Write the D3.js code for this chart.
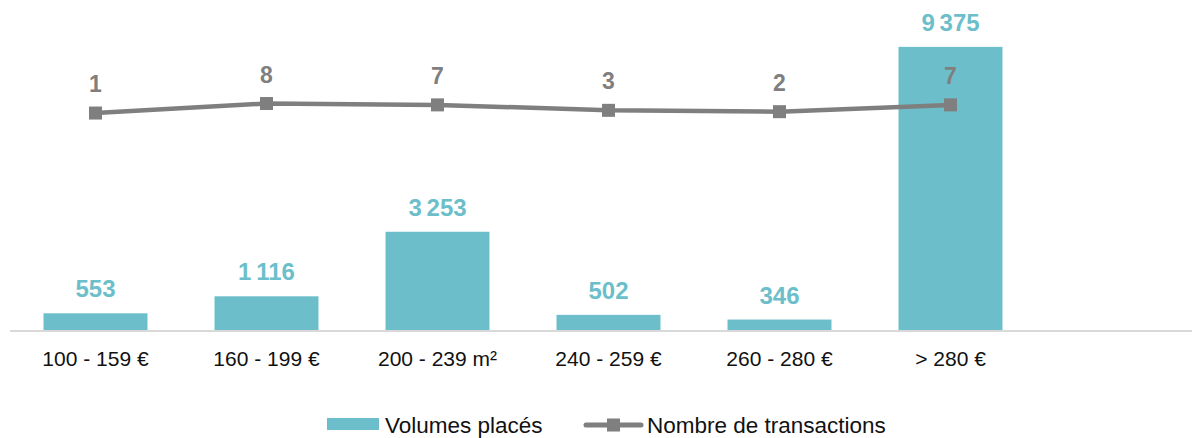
<!DOCTYPE html>
<html>
<head>
<meta charset="utf-8">
<script src="https://cdn.jsdelivr.net/npm/d3@7"></script>
<style>
  body { margin: 0; background: #fff; }
  svg { display: block; font-family: "Liberation Sans", Arial, sans-serif; }
</style>
</head>
<body>
<div id="chart"></div>
<script>
// Data
const categories = ["100 - 159 €", "160 - 199 €", "200 - 239 m²", "240 - 259 €", "260 - 280 €", "> 280 €"];
const volumes = [553, 1116, 3253, 502, 346, 9375];
const transactions = [1, 8, 7, 3, 2, 7];
const volumeLabels = ["553", "1\u202F116", "3\u202F253", "502", "346", "9\u202F375"];

const width = 1192, height = 438;
const teal = "#6cbfca", grey = "#7f7f7f";

const svg = d3.select("#chart").append("svg")
    .attr("width", width)
    .attr("height", height);

// one empty slot at the end, like the reference
const x = d3.scaleBand()
    .domain(categories.concat([""]))
    .range([10, 1207])
    .paddingInner(0.392)
    .paddingOuter(0.196);

const y = d3.scaleLinear().domain([0, 10000]).range([330, 28]);
// secondary axis for the transactions line
const y2 = d3.scaleLinear().domain([0, 10]).range([114.4, 100.8]);

// bars
svg.append("g")
  .selectAll("rect")
  .data(volumes)
  .join("rect")
    .attr("x", (d, i) => x(categories[i]))
    .attr("y", d => y(d))
    .attr("width", x.bandwidth())
    .attr("height", d => y(0) - y(d))
    .attr("fill", teal);

// axis line
svg.append("line")
    .attr("x1", 10).attr("x2", 1207)
    .attr("y1", 331).attr("y2", 331)
    .attr("stroke", "#d9d9d9")
    .attr("stroke-width", 2);

// category labels
svg.append("g")
    .attr("text-anchor", "middle")
    .attr("font-size", 21)
    .attr("fill", "#111")
  .selectAll("text")
  .data(categories)
  .join("text")
    .attr("x", d => x(d) + x.bandwidth() / 2)
    .attr("y", 366)
    .text(d => d);

// bar value labels
svg.append("g")
    .attr("text-anchor", "middle")
    .attr("font-size", 24)
    .attr("font-weight", "bold")
    .attr("fill", teal)
  .selectAll("text")
  .data(volumes)
  .join("text")
    .attr("x", (d, i) => x(categories[i]) + x.bandwidth() / 2)
    .attr("y", d => y(d) - 16)
    .text((d, i) => volumeLabels[i]);

// transactions line
const line = d3.line()
    .x((d, i) => x(categories[i]) + x.bandwidth() / 2)
    .y(d => y2(d));

svg.append("path")
    .datum(transactions)
    .attr("d", line)
    .attr("fill", "none")
    .attr("stroke", grey)
    .attr("stroke-width", 4.5)
    .attr("stroke-linejoin", "round");

svg.append("g")
  .selectAll("rect")
  .data(transactions)
  .join("rect")
    .attr("x", (d, i) => x(categories[i]) + x.bandwidth() / 2 - 6.5)
    .attr("y", d => y2(d) - 6.5)
    .attr("width", 13)
    .attr("height", 13)
    .attr("fill", grey);

svg.append("g")
    .attr("text-anchor", "middle")
    .attr("font-size", 23)
    .attr("font-weight", "bold")
    .attr("fill", grey)
  .selectAll("text")
  .data(transactions)
  .join("text")
    .attr("x", (d, i) => x(categories[i]) + x.bandwidth() / 2)
    .attr("y", d => y2(d) - 21)
    .text(d => d);

// legend
const legend = svg.append("g").attr("font-size", 22.5).attr("fill", "#111");

legend.append("rect")
    .attr("x", 327).attr("y", 418)
    .attr("width", 52).attr("height", 12)
    .attr("fill", teal);
legend.append("text")
    .attr("x", 385).attr("y", 433)
    .text("Volumes placés");

legend.append("line")
    .attr("x1", 586).attr("x2", 641)
    .attr("y1", 425).attr("y2", 425)
    .attr("stroke", grey)
    .attr("stroke-width", 5)
    .attr("stroke-linecap", "round");
legend.append("rect")
    .attr("x", 607).attr("y", 418.5)
    .attr("width", 13).attr("height", 13)
    .attr("fill", grey);
legend.append("text")
    .attr("x", 647).attr("y", 433)
    .text("Nombre de transactions");
</script>
</body>
</html>
